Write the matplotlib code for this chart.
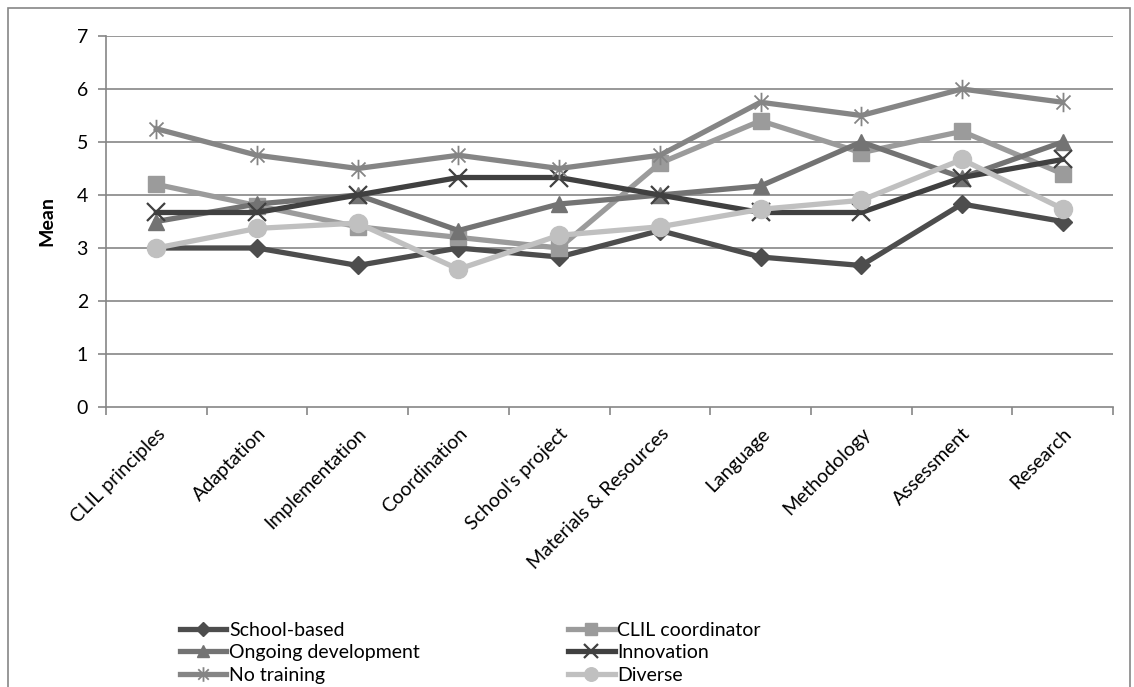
import matplotlib
matplotlib.use("Agg")
import matplotlib.pyplot as plt
from matplotlib.path import Path
from matplotlib.patches import Rectangle
import numpy as np

plt.rcParams['font.family'] = ['Lato', 'DejaVu Sans']

categories = ["CLIL principles", "Adaptation", "Implementation", "Coordination",
              "School's project", "Materials & Resources", "Language",
              "Methodology", "Assessment", "Research"]

school_based = [3.0, 3.0, 2.67, 3.0, 2.83, 3.33, 2.83, 2.67, 3.83, 3.5]
clil_coordinator = [4.2, 3.8, 3.4, 3.2, 3.0, 4.6, 5.4, 4.8, 5.2, 4.4]
ongoing_development = [3.5, 3.83, 4.0, 3.33, 3.83, 4.0, 4.17, 5.0, 4.33, 5.0]
innovation = [3.67, 3.67, 4.0, 4.33, 4.33, 4.0, 3.67, 3.67, 4.33, 4.67]
no_training = [5.25, 4.75, 4.5, 4.75, 4.5, 4.75, 5.75, 5.5, 6.0, 5.75]
diverse = [3.0, 3.37, 3.47, 2.6, 3.24, 3.4, 3.73, 3.9, 4.67, 3.74]

y_ticks = [0, 1, 2, 3, 4, 5, 6, 7]

# asterisk marker: vertical stroke plus two diagonals
asterisk = Path([(0, -1), (0, 1), (-0.72, -0.72), (0.72, 0.72), (-0.72, 0.72), (0.72, -0.72)],
                [Path.MOVETO, Path.LINETO, Path.MOVETO, Path.LINETO, Path.MOVETO, Path.LINETO])

series = [
    ("School-based", school_based, dict(color="#4d4d4d", marker="D", markersize=9)),
    ("CLIL coordinator", clil_coordinator, dict(color="#9b9b9b", marker="s", markersize=11)),
    ("Ongoing development", ongoing_development, dict(color="#737373", marker="^", markersize=12)),
    ("Innovation", innovation, dict(color="#404040", marker="x", markersize=13, markeredgewidth=1.6)),
    ("No training", no_training, dict(color="#858585", marker=asterisk, markersize=14,
                                      markeredgewidth=1.3, markerfacecolor="none")),
    ("Diverse", diverse, dict(color="#c0c0c0", marker="o", markersize=13)),
]

FS = 14
fig = plt.figure(figsize=(11.34, 6.87), dpi=100)
W, H = 1134, 687
ax = fig.add_axes([106 / W, 1 - 407 / H, (1113 - 106) / W, (407 - 36) / H])

x = np.arange(len(categories))
handles = {}
for name, vals, st in series:
    ln, = ax.plot(x, vals, linewidth=3.8, label=name, zorder=3, **st)
    handles[name] = ln

grid_c = "#868686"
ax.set_xlim(-0.5, len(categories) - 0.5)
ax.set_ylim(0, 7)
ax.set_yticks(y_ticks)
ax.set_yticklabels([str(t) for t in y_ticks], fontsize=FS)
for t in y_ticks[1:]:
    ax.axhline(t, color=grid_c, linewidth=1.2, zorder=1)

ax.set_xticks(np.arange(-0.5, len(categories), 1.0))
ax.set_xticklabels([])
ax.set_xticks(x, minor=True)
ax.set_xticklabels(categories, minor=True, rotation=45, ha="right",
                   rotation_mode="anchor", fontsize=FS)
ax.tick_params(axis="x", which="minor", length=0, pad=13)
ax.tick_params(axis="x", which="major", length=6, width=1.2, color=grid_c, direction="out")
ax.tick_params(axis="y", length=6, width=1.2, color=grid_c, direction="out", pad=7)

for s in ["top", "right"]:
    ax.spines[s].set_visible(False)
for s in ["left", "bottom"]:
    ax.spines[s].set_color(grid_c)
    ax.spines[s].set_linewidth(1.2)

ax.set_ylabel("Mean", fontsize=FS, fontweight="bold", labelpad=15)

order = ["School-based", "Ongoing development", "No training",
         "CLIL coordinator", "Innovation", "Diverse"]
leg = fig.legend([handles[n] for n in order], order, ncol=2, frameon=False,
                 loc="upper left", bbox_to_anchor=(172 / W, 1 - 614 / H),
                 fontsize=FS, handlelength=2.4, handletextpad=0.15,
                 labelspacing=0.28, columnspacing=7.6, borderaxespad=0)
for h in leg.legend_handles:
    h.set_markersize(h.get_markersize() * 0.75)

# chart area border
fig.patches.append(Rectangle((8 / W, -0.05), (1130 - 8) / W, (1 - 8 / H) + 0.05,
                             transform=fig.transFigure, fill=False,
                             edgecolor=grid_c, linewidth=1.2))

fig.savefig("out.png", dpi=100)
